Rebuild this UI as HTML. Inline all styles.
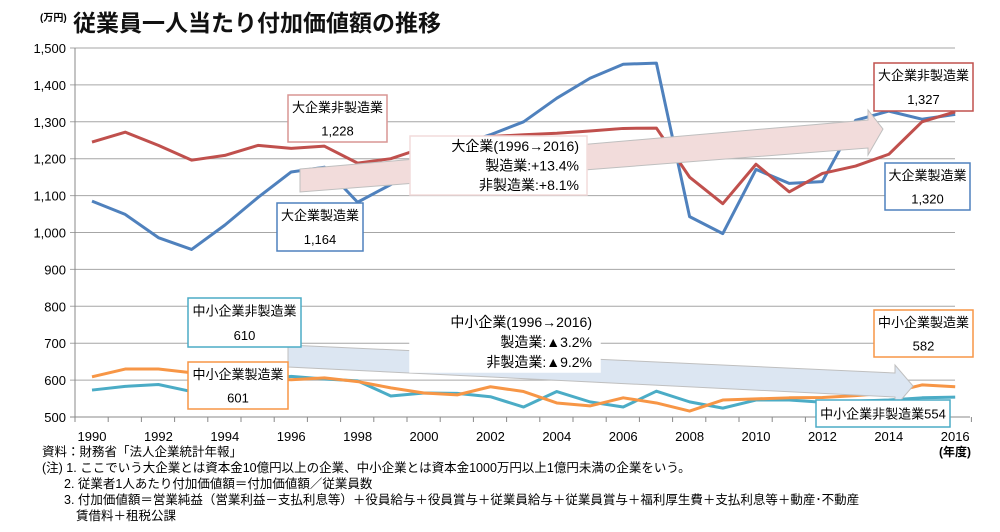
<!DOCTYPE html>
<html><head><meta charset="utf-8"><style>
body{margin:0;background:#fff;}
svg text{font-family:"Liberation Sans","Noto Sans CJK JP",sans-serif;}
</style></head><body>
<svg width="1000" height="527" viewBox="0 0 1000 527" xmlns="http://www.w3.org/2000/svg">
<text x="40" y="21" font-size="10" font-weight="bold" fill="#000">(万円)</text>
<text x="73" y="31" font-size="23" font-weight="bold" fill="#111">従業員一人当たり付加価値額の推移</text>
<g id="grid"></g>
<g id="axes"></g>
<g id="series"></g>
<g id="ann">
 <polygon points="300,169 868,120 868,110 883,129 868,155 868,148 300,192" fill="#f2dcdb" stroke="#bfbfbf" stroke-width="1"/>
 <polygon points="288,345 895,373 895,365 913,386 895,407 895,397 288,367" fill="#dce6f2" stroke="#bfbfbf" stroke-width="1"/>
</g>
<g id="boxes"></g>
<g font-size="12.5" fill="#000">
 <text x="42" y="456">資料：財務省「法人企業統計年報」</text>
 <text x="42" y="472">(注) 1. ここでいう大企業とは資本金10億円以上の企業、中小企業とは資本金1000万円以上1億円未満の企業をいう。</text>
 <text x="64" y="488">2. 従業者1人あたり付加価値額＝付加価値額／従業員数</text>
 <text x="64" y="504">3. 付加価値額＝営業純益（営業利益－支払利息等）＋役員給与＋役員賞与＋従業員給与＋従業員賞与＋福利厚生費＋支払利息等＋動産･不動産</text>
 <text x="76" y="520">賃借料＋租税公課</text>
</g>
</svg>
<script>
const years=[1990,1991,1992,1993,1994,1995,1996,1997,1998,1999,2000,2001,2002,2003,2004,2005,2006,2007,2008,2009,2010,2011,2012,2013,2014,2015,2016];
const largeMfg=[1085,1049,986,954,1020,1095,1164,1177,1082,1130,1200,1235,1265,1300,1364,1418,1456,1459,1043,997,1171,1133,1138,1304,1329,1307,1320];
const largeNonMfg=[1245,1272,1236,1196,1209,1236,1228,1234,1188,1200,1230,1250,1260,1265,1269,1275,1282,1283,1150,1078,1185,1110,1160,1180,1212,1300,1327];
const smeMfg=[609,630,630,620,610,605,601,606,596,579,565,560,582,569,538,530,552,538,516,546,549,552,553,558,565,587,582];
const smeNonMfg=[573,583,588,569,590,600,610,603,598,557,565,564,555,527,569,541,527,570,541,524,546,546,540,543,546,552,554];
const yTicks=[500,600,700,800,900,1000,1100,1200,1300,1400,1500];
const xTickLabels=[1990,1992,1994,1996,1998,2000,2002,2004,2006,2008,2010,2012,2014,2016];
const NS="http://www.w3.org/2000/svg";
const X=y=>92+(y-1990)*33.2;
const Y=v=>48+(1500-v)*0.369;
function mk(tag,parent,attrs){const e=document.createElementNS(NS,tag);for(const k in attrs)e.setAttribute(k,attrs[k]);parent.appendChild(e);return e;}
const grid=document.getElementById('grid'),axes=document.getElementById('axes'),ser=document.getElementById('series');
yTicks.forEach(v=>{
 const l=mk('line',grid,{x1:70,x2:v===500?970:955,y1:Y(v),y2:Y(v),stroke:v===500?'#888':'#a6a6a6','stroke-width':1});
 
 
 const t=mk('text',axes,{x:66,y:Y(v)+5,'text-anchor':'end','font-size':13,fill:'#000'});
 t.textContent=v.toLocaleString('en-US');
 
 
});
const ya=mk('line',axes,{x1:75,x2:75,y1:Y(1500),y2:Y(500),stroke:'#888'});


for(let i=0;i<=27;i++){const xx=75+i*33.2;const tk=mk('line',axes,{x1:xx,x2:xx,y1:Y(500),y2:Y(500)+5,stroke:'#888'});
 
 }
xTickLabels.forEach(y=>{const t=mk('text',axes,{x:X(y),y:441,'text-anchor':'middle','font-size':13,fill:'#000'});t.textContent=y;
 
 });
const yl=mk('text',axes,{x:955,y:456,'text-anchor':'middle','font-size':12,'font-weight':'bold'});yl.textContent='(年度)';


function line(data,color,name){const p=mk('polyline',ser,{points:data.map((v,i)=>X(years[i])+','+Y(v)).join(' '),fill:'none',stroke:color,'stroke-width':3,'stroke-linejoin':'round'});
 
 }
line(smeNonMfg,'#4bacc6','sme-nonmfg-line');
line(smeMfg,'#f79646','sme-mfg-line');
line(largeMfg,'#4f81bd','large-mfg-line');
line(largeNonMfg,'#c0504d','large-nonmfg-line');
const boxes=document.getElementById('boxes');
function box(x,y,w,h,stroke,lines,name,anchor,fs){const g=mk('g',boxes,{});
 
 
 mk('rect',g,{x:x,y:y,width:w,height:h,fill:'#fff',stroke:stroke,'stroke-width':1.5});
 lines.forEach((s,i)=>{const t=mk('text',g,{x:anchor==='end'?x+w-8:x+w/2,y:y+(h/(lines.length))*(i+0.5)+5,'text-anchor':anchor||'middle','font-size':fs||13,fill:'#000'});t.textContent=s;});}
box(288,95,99,47,'#d99694',['大企業非製造業','1,228'],'label-large-nonmfg-1996');
box(277,203,86,48,'#4f81bd',['大企業製造業','1,164'],'label-large-mfg-1996');
box(410,136,177,59,'#f2dcdb',['大企業(1996→2016)','製造業:+13.4%','非製造業:+8.1%'],'large-change-note','end',14);
box(874,63,99,48,'#c0504d',['大企業非製造業','1,327'],'label-large-nonmfg-2016');
box(885,163,85,47,'#4f81bd',['大企業製造業','1,320'],'label-large-mfg-2016');
box(188,298,113,49,'#4bacc6',['中小企業非製造業','610'],'label-sme-nonmfg-1996');
box(188,362,100,47,'#f79646',['中小企業製造業','601'],'label-sme-mfg-1996');
box(410,312,190,60,'#fff',['中小企業(1996→2016)','製造業:▲3.2%','非製造業:▲9.2%'],'sme-change-note','end',14);
box(874,310,99,47,'#f79646',['中小企業製造業','582'],'label-sme-mfg-2016');
box(816,400,134,27,'#4bacc6',['中小企業非製造業554'],'label-sme-nonmfg-2016');
</script>
</body></html>
